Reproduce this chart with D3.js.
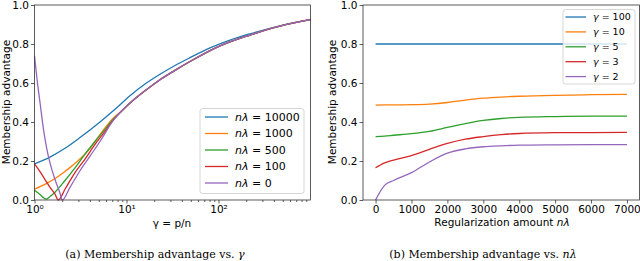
<!DOCTYPE html>
<html lang="en">
<head>
<meta charset="utf-8">
<title>membership advantage</title>
<script src="https://d3js.org/d3.v7.min.js"></script>
<style>
  body { margin: 0; background: #fff; }
  text { font-family: "DejaVu Sans", sans-serif; fill: #000; }
</style>
</head>
<body>
<script>

// ---- panel (a): advantage vs gamma, one curve per n*lambda ----
var gTail = [8.8, 10.91, 15.89, 23.13, 33.66, 48.98, 103.8, 219.8, 465.6, 1000];
var vTail = [0.455, 0.497, 0.56, 0.617, 0.665, 0.71, 0.79, 0.846, 0.892, 0.925];

var gBlue   = [1, 1.474, 2.145, 3.123, 5.152, 7.5, 10.91, 15.89, 23.13, 33.66, 48.98, 80.8, 133.4, 219.8, 465.6, 1000];
var vBlue   = [0.185, 0.22, 0.265, 0.32, 0.40, 0.465, 0.535, 0.595, 0.645, 0.69, 0.73, 0.78, 0.82, 0.852, 0.893, 0.926];
var gOrange = [1, 1.357, 1.671, 2.056, 2.556, 3.123, 4.011, 4.546, 5.152, 5.839, 7.0].concat(gTail);
var vOrange = [0.055, 0.085, 0.11, 0.14, 0.175, 0.21, 0.265, 0.30, 0.335, 0.37, 0.415].concat(vTail);
var gGreen  = [1, 1.148, 1.268, 1.35, 1.474, 1.671, 2.145, 2.755, 3.539, 4.546, 5.839, 7.1].concat(gTail);
var vGreen  = [0.05, 0.028, 0.01, 0.005, 0.018, 0.04, 0.10, 0.165, 0.235, 0.30, 0.362, 0.412].concat(vTail);
var gRed    = [1, 1.148, 1.3, 1.474, 1.671, 1.815, 2.145, 2.755, 3.539, 4.546, 5.839, 7.15].concat(gTail);
var vRed    = [0.185, 0.145, 0.105, 0.065, 0.03, 0.0, 0.055, 0.14, 0.21, 0.285, 0.352, 0.41].concat(vTail);
var gPurple = [1, 1.065, 1.148, 1.246, 1.357, 1.474, 1.671, 1.893, 2.0, 2.432, 3.123, 4.011, 5.152, 7.187].concat(gTail);
var vPurple = [0.74, 0.62, 0.50, 0.37, 0.265, 0.19, 0.105, 0.035, 0.0, 0.065, 0.15, 0.225, 0.30, 0.408].concat(vTail);

var leftSeries = [
  {label: "10000", g: gBlue, v: vBlue, color: "#1f77b4"},
  {label: "1000", g: gOrange, v: vOrange, color: "#ff7f0e"},
  {label: "500", g: gGreen, v: vGreen, color: "#2ca02c"},
  {label: "100", g: gRed, v: vRed, color: "#d62728"},
  {label: "0", g: gPurple, v: vPurple, color: "#9467bd"}
];

// ---- panel (b): advantage vs n*lambda, one curve per gamma ----
var nl = [0, 250, 500, 1000, 1500, 2000, 2500, 3000, 3500, 4000, 5000, 6000, 7000];
var v100 = [0.80, 0.80, 0.80, 0.80, 0.80, 0.80, 0.80, 0.80, 0.80, 0.80, 0.80, 0.80, 0.80];
var v10  = [0.487, 0.488, 0.488, 0.489, 0.492, 0.50, 0.512, 0.522, 0.528, 0.532, 0.537, 0.54, 0.542];
var v5   = [0.325, 0.328, 0.332, 0.34, 0.352, 0.372, 0.392, 0.408, 0.418, 0.424, 0.428, 0.43, 0.43];
var v3   = [0.165, 0.19, 0.205, 0.228, 0.26, 0.29, 0.312, 0.325, 0.335, 0.341, 0.345, 0.346, 0.347];
var v2   = [0.0, 0.075, 0.10, 0.14, 0.195, 0.24, 0.262, 0.273, 0.278, 0.281, 0.283, 0.284, 0.284];

var rightSeries = [
  {label: "100", v: v100, color: "#1f77b4"},
  {label: "10", v: v10, color: "#ff7f0e"},
  {label: "5", v: v5, color: "#2ca02c"},
  {label: "3", v: v3, color: "#d62728"},
  {label: "2", v: v2, color: "#9467bd"}
];

var yTicks = [0, 0.2, 0.4, 0.6, 0.8, 1.0];

var svg = d3.select("body").append("svg")
    .attr("width", 640)
    .attr("height", 261);

var xL = d3.scaleLog().domain([1, 1000]).range([34.5, 310.5]);
var xR = d3.scaleLinear().domain([-350, 7350]).range([363, 639.5]);
var y = d3.scaleLinear().domain([0, 1]).range([200, 5]);

function styleAxis(g) {
  g.select(".domain").remove();
  g.selectAll(".tick line").attr("stroke", "#333").attr("stroke-width", 0.8);
  g.selectAll(".tick text").attr("font-size", 10.5).attr("fill", "#000")
    .style("font-family", "'DejaVu Sans', sans-serif");
}

// --- left panel ---
svg.append("g")
    .attr("transform", "translate(34.5,0)")
    .call(d3.axisLeft(y).tickValues(yTicks).tickFormat(d3.format(".1f")).tickSize(3.5).tickPadding(2))
    .call(styleAxis);

var sup = {1: "10\u2070", 10: "10\u00b9", 100: "10\u00b2"};
svg.append("g")
    .attr("transform", "translate(0,200)")
    .call(d3.axisBottom(xL).tickValues([1, 10, 100]).tickFormat(d => sup[d]).tickSize(3.5).tickPadding(2))
    .call(styleAxis);

var minor = [];
[1, 10, 100].forEach(function (b) { for (var k = 2; k <= 9; k++) minor.push(b * k); });
svg.append("g")
    .attr("transform", "translate(0,200)")
    .call(d3.axisBottom(xL).tickValues(minor).tickFormat("").tickSize(2))
    .call(styleAxis);

var lineL = d3.line()
    .x(d => xL(d[0]))
    .y(d => y(d[1]))
    .curve(d3.curveMonotoneX);

svg.append("g").selectAll("path")
    .data(leftSeries)
  .enter().append("path")
    .attr("d", s => lineL(s.g.map((g, i) => [g, s.v[i]])))
    .attr("fill", "none")
    .attr("stroke", s => s.color)
    .attr("stroke-width", 1.3);

svg.append("rect")
    .attr("x", 34.5).attr("y", 5)
    .attr("width", 276).attr("height", 195)
    .attr("fill", "none").attr("stroke", "#333").attr("stroke-width", 0.8);

// legend (a)
var legL = svg.append("g");
legL.append("rect")
    .attr("x", 200).attr("y", 108.5).attr("width", 104).attr("height", 85)
    .attr("rx", 2.5).attr("fill", "#fff").attr("fill-opacity", 0.8)
    .attr("stroke", "#ccc").attr("stroke-width", 0.8);
leftSeries.forEach(function (s, i) {
  var yy = 117 + i * 16.5;
  legL.append("line")
      .attr("x1", 205).attr("x2", 228).attr("y1", yy).attr("y2", yy)
      .attr("stroke", s.color).attr("stroke-width", 1.3);
  var t = legL.append("text")
      .attr("x", 235).attr("y", yy).attr("dy", "0.36em")
      .attr("font-size", 11);
  t.append("tspan").attr("font-style", "italic").text("n\u03bb");
  t.append("tspan").text(" = " + s.label);
});

svg.append("text")
    .attr("x", 172).attr("y", 226.5)
    .attr("text-anchor", "middle").attr("font-size", 10.5)
    .text("\u03b3 = p/n");

svg.append("text")
    .attr("transform", "translate(9.5,102) rotate(-90)")
    .attr("text-anchor", "middle").attr("font-size", 10.5)
    .text("Membership advantage");

// --- right panel ---
svg.append("g")
    .attr("transform", "translate(363,0)")
    .call(d3.axisLeft(y).tickValues(yTicks).tickFormat(d3.format(".1f")).tickSize(3.5).tickPadding(2))
    .call(styleAxis);

svg.append("g")
    .attr("transform", "translate(0,200)")
    .call(d3.axisBottom(xR).tickValues(d3.range(0, 7001, 1000)).tickFormat(d3.format("d")).tickSize(3.5).tickPadding(2))
    .call(styleAxis);

var lineR = d3.line()
    .x((d, i) => xR(nl[i]))
    .y(d => y(d))
    .curve(d3.curveMonotoneX);

svg.append("g").selectAll("path")
    .data(rightSeries)
  .enter().append("path")
    .attr("d", s => lineR(s.v))
    .attr("fill", "none")
    .attr("stroke", s => s.color)
    .attr("stroke-width", 1.3);

svg.append("rect")
    .attr("x", 363).attr("y", 5)
    .attr("width", 276.5).attr("height", 195)
    .attr("fill", "none").attr("stroke", "#333").attr("stroke-width", 0.8);

// legend (b)
var legR = svg.append("g");
legR.append("rect")
    .attr("x", 563).attr("y", 9.5).attr("width", 72).attr("height", 74.5)
    .attr("rx", 2.5).attr("fill", "#fff").attr("fill-opacity", 0.8)
    .attr("stroke", "#ccc").attr("stroke-width", 0.8);
rightSeries.forEach(function (s, i) {
  var yy = 17 + i * 14.9;
  legR.append("line")
      .attr("x1", 565.5).attr("x2", 586).attr("y1", yy).attr("y2", yy)
      .attr("stroke", s.color).attr("stroke-width", 1.3);
  var t = legR.append("text")
      .attr("x", 593).attr("y", yy).attr("dy", "0.36em")
      .attr("font-size", 9.5);
  t.append("tspan").attr("font-style", "italic").text("\u03b3");
  t.append("tspan").text(" = " + s.label);
});

var xlab = svg.append("text")
    .attr("x", 502).attr("y", 226)
    .attr("text-anchor", "middle").attr("font-size", 10.5);
xlab.append("tspan").text("Regularization amount ");
xlab.append("tspan").attr("font-style", "italic").text("n\u03bb");

svg.append("text")
    .attr("transform", "translate(336,102) rotate(-90)")
    .attr("text-anchor", "middle").attr("font-size", 10.5)
    .text("Membership advantage");

// --- captions ---
var capA = svg.append("text")
    .attr("x", 155).attr("y", 258)
    .attr("text-anchor", "middle").attr("font-size", 11)
    .style("font-family", "'DejaVu Serif', serif");
capA.append("tspan").text("(a) Membership advantage vs. ");
capA.append("tspan").attr("font-style", "italic").text("\u03b3");

var capB = svg.append("text")
    .attr("x", 483).attr("y", 258)
    .attr("text-anchor", "middle").attr("font-size", 11)
    .style("font-family", "'DejaVu Serif', serif");
capB.append("tspan").text("(b) Membership advantage vs. ");
capB.append("tspan").attr("font-style", "italic").text("n\u03bb");

</script>
</body>
</html>
